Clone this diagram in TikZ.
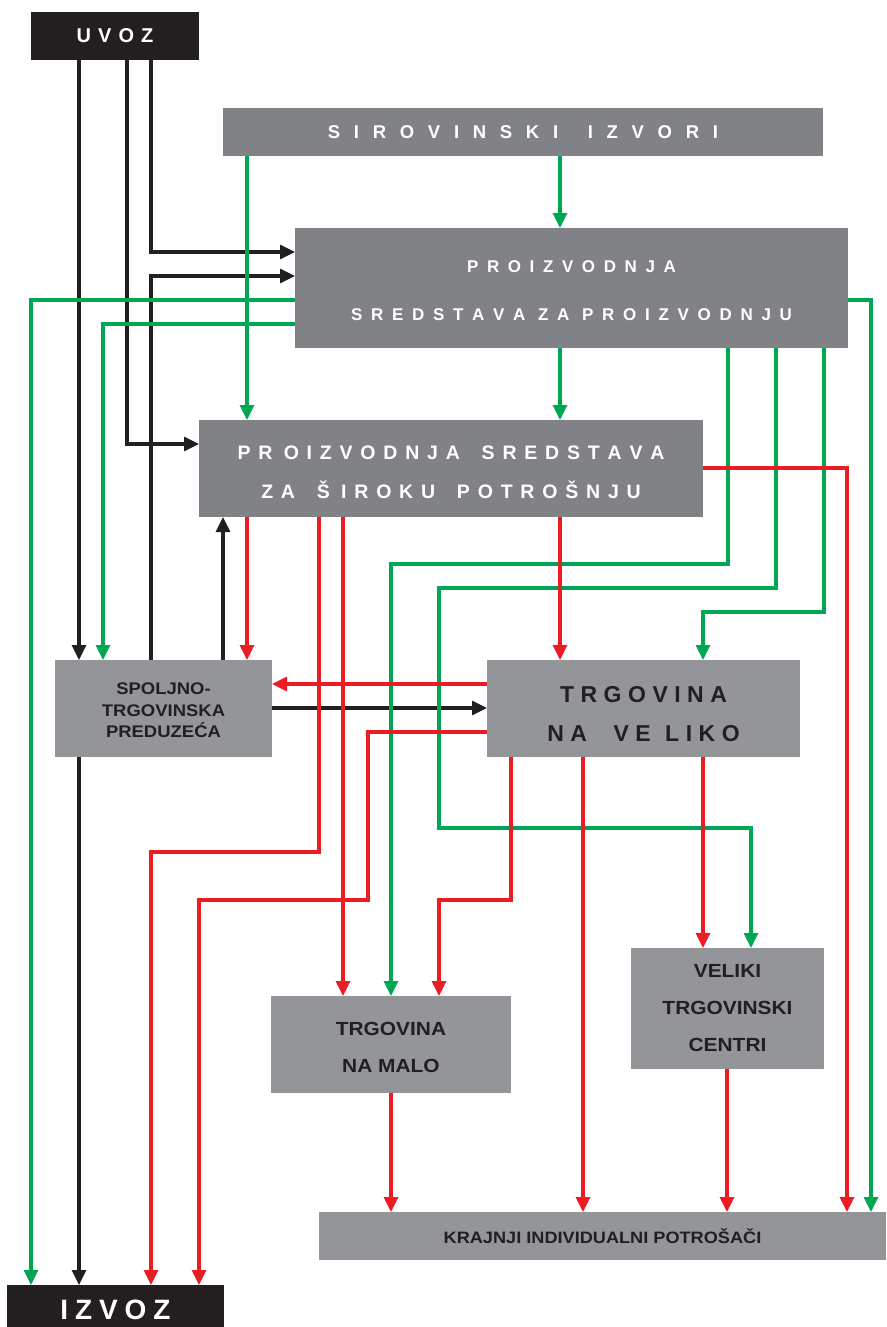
\documentclass[tikz,border=0pt]{standalone}
\usepackage{fontspec}
\setmainfont{Liberation Sans}
\newfontfamily\wf{Liberation Sans}[FakeStretch=1.1]
\usetikzlibrary{arrows.meta}
\definecolor{cdark}{HTML}{808285}
\definecolor{clight}{HTML}{939598}
\definecolor{cblk}{HTML}{231F20}
\definecolor{cgrn}{HTML}{00A651}
\definecolor{cred}{HTML}{ED1C24}
\newcommand\spcd[3]{\def\myls{#1}\def\myws{#2}\myloop#3\relax}
\def\myloop#1{\ifx\relax#1\unkern\else\ifx|#1\kern\myws\relax\else#1\kern\myls\relax\fi\expandafter\myloop\fi}
\newcommand\topstrut[1]{\rule{0pt}{#1}}
\tikzset{
  bx/.style={rectangle, inner sep=0pt, outer sep=0pt, anchor=north west, align=center},
  dbox/.style={bx, fill=cdark, text=white},
  lbox/.style={bx, fill=clight, text=cblk},
  kbox/.style={bx, fill=cblk, text=white},
  conn/.style={line width=3.2pt, -{Triangle[length=15pt,width=14pt]}},
  blkc/.style={conn, draw=cblk},
  grnc/.style={conn, draw=cgrn},
  redc/.style={conn, draw=cred},
}
\begin{document}
\begin{tikzpicture}[x=1pt,y=-1pt]
\useasboundingbox (0,0) rectangle (886,1327);
\fill[white] (0,0) rectangle (886,1327);
% boxes
\node[kbox, minimum width=168pt, minimum height=48pt, font=\bfseries\fontsize{20}{24}\selectfont] (uvoz) at (31,12) {\spcd{7.1pt}{0pt}{UVOZ}};
\node[dbox, minimum width=600pt, minimum height=48pt, font=\bfseries\fontsize{18.5}{22}\selectfont] (sir) at (223,108) {\spcd{13.7pt}{16pt}{SIROVINSKI|IZVORI}};
\node[dbox, minimum width=553pt, minimum height=120pt, font=\bfseries\fontsize{17}{48}\selectfont] (pp) at (295,228) {\topstrut{16.2pt}\spcd{8.6pt}{4pt}{PROIZVODNJA}\\\spcd{8.7pt}{4pt}{SREDSTAVA|ZA|PROIZVODNJU}};
\node[dbox, minimum width=504pt, minimum height=97pt, font=\bfseries\fontsize{19.5}{39}\selectfont] (psp) at (199,420) {\topstrut{22pt}\spcd{7.8pt}{3.5pt}{PR|OIZVODNJA||||SREDSTAVA}\\\spcd{7.8pt}{3.5pt}{ZA||||Š|IROKU||||POTROŠNJU}};
\node[lbox, minimum width=217pt, minimum height=97pt, font=\wf\bfseries\fontsize{16.8}{21.5}\selectfont] (sp) at (55,660) {\topstrut{16pt}SPOLJNO-\\TRGOVINSKA\\PREDUZEĆA};
\node[lbox, minimum width=313pt, minimum height=97pt, font=\bfseries\fontsize{23}{39}\selectfont] (tv) at (487,660) {\topstrut{26.5pt}\spcd{6.5pt}{4pt}{TRGOVINA}\\\spcd{6.5pt}{4pt}{NA|||||VE||LIKO}};
\node[lbox, minimum width=193pt, minimum height=121pt, font=\wf\bfseries\fontsize{19}{37}\selectfont] (vc) at (631,948) {VELIKI\\TRGOVINSKI\\CENTRI};
\node[lbox, minimum width=240pt, minimum height=97pt, font=\wf\bfseries\fontsize{19}{37}\selectfont] (nm) at (271,996) {\topstrut{19.6pt}TRGOVINA\\NA MALO};
\node[lbox, minimum width=567pt, minimum height=48pt, font=\wf\bfseries\fontsize{16.5}{20}\selectfont] (kp) at (319,1212) {KRAJNJI INDIVIDUALNI POTROŠAČI};
\node[kbox, minimum width=217pt, minimum height=42pt, font=\bfseries\fontsize{28}{32}\selectfont] (iz) at (7,1285) {\topstrut{28pt}\spcd{6.9pt}{0pt}{IZVOZ}};
% black connectors
\draw[blkc] (79,0 |- uvoz.south) -- (79,0 |- sp.north);
\draw[blkc] (127,0 |- uvoz.south) |- (psp.west |- 0,444);
\draw[blkc] (151,0 |- uvoz.south) |- (pp.west |- 0,252);
\draw[blkc] (151,0 |- sp.north) |- (pp.west |- 0,276);
\draw[blkc] (223,0 |- sp.north) -- (223,0 |- psp.south);
\draw[blkc] (sp.east |- 0,708) -- (tv.west |- 0,708);
\draw[blkc] (79,0 |- sp.south) -- (79,0 |- iz.north);
% green connectors
\draw[grnc] (560,0 |- sir.south) -- (560,0 |- pp.north);
\draw[grnc] (247,0 |- sir.south) -- (247,0 |- psp.north);
\draw[grnc] (pp.west |- 0,300) -| (31,0 |- iz.north);
\draw[grnc] (pp.west |- 0,324) -| (103,0 |- sp.north);
\draw[grnc] (pp.east |- 0,300) -| (871,0 |- kp.north);
\draw[grnc] (560,0 |- pp.south) -- (560,0 |- psp.north);
\draw[grnc] (728,0 |- pp.south) |- (391,564) -- (391,0 |- nm.north);
\draw[grnc] (776,0 |- pp.south) |- (439,588) |- (751,828) -- (751,0 |- vc.north);
\draw[grnc] (824,0 |- pp.south) |- (703,612) -- (703,0 |- tv.north);
% red connectors
\draw[redc] (psp.east |- 0,468) -| (847,0 |- kp.north);
\draw[redc] (247,0 |- psp.south) -- (247,0 |- sp.north);
\draw[redc] (319,0 |- psp.south) |- (151,852) -- (151,0 |- iz.north);
\draw[redc] (343,0 |- psp.south) -- (343,0 |- nm.north);
\draw[redc] (560,0 |- psp.south) -- (560,0 |- tv.north);
\draw[redc] (tv.west |- 0,684) -- (sp.east |- 0,684);
\draw[redc] (tv.west |- 0,732) -| (368,900) -| (199,0 |- iz.north);
\draw[redc] (511,0 |- tv.south) |- (439,900) -- (439,0 |- nm.north);
\draw[redc] (583,0 |- tv.south) -- (583,0 |- kp.north);
\draw[redc] (703,0 |- tv.south) -- (703,0 |- vc.north);
\draw[redc] (391,0 |- nm.south) -- (391,0 |- kp.north);
\draw[redc] (727,0 |- vc.south) -- (727,0 |- kp.north);
\end{tikzpicture}
\end{document}
